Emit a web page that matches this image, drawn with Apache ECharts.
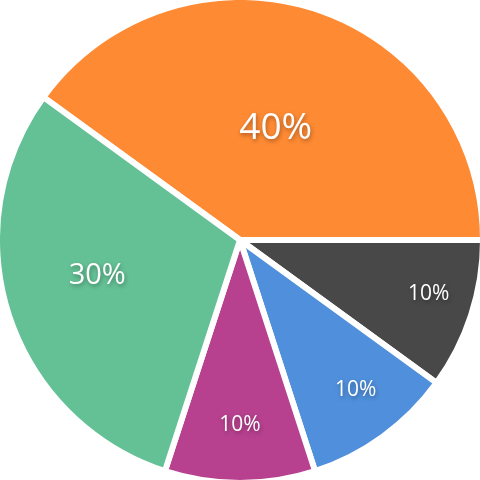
<!DOCTYPE html>
<html>
<head>
<meta charset="utf-8">
<script src="https://cdn.jsdelivr.net/npm/echarts@6/dist/echarts.min.js"></script>
<style>html,body{margin:0;padding:0;background:#fff;}#chart{width:480px;height:480px;}</style>
</head>
<body>
<div id="chart"></div>
<script>
const categories = ['A', 'B', 'C', 'D', 'E'];
const values = [40, 10, 10, 10, 30];

// styling (not data)
const colors = ['#FE8A33', '#484848', '#4F8FDB', '#B7418F', '#64C195'];
const labelSizes = [37, 21, 21, 21, 29];
const labelRing = [0, 2, 2, 2, 1];
const labelNudge = [[-2, 4], [8, -5], [4, -4], [0, -5], [-3, -10]];

const R = 243;
const rings = [[0, 238], [48, 240], [134, 240]];

const chart = echarts.init(document.getElementById('chart'));

const baseLabel = {
  position: 'inside',
  color: '#fff',
  fontFamily: 'Open Sans',
  formatter: p => p.value + '%',
  textShadowColor: 'rgba(0,0,0,0.35)',
  textShadowBlur: 4,
  textShadowOffsetX: 1,
  textShadowOffsetY: 2
};

const series = [{
  type: 'pie',
  radius: [0, R],
  center: ['50%', '50%'],
  startAngle: 144,
  clockwise: true,
  silent: true,
  label: { show: false },
  labelLine: { show: false },
  itemStyle: { borderColor: '#fff', borderWidth: 6 },
  data: categories.map((c, i) => ({ name: c, value: values[i], itemStyle: { color: colors[i] } }))
}];

rings.forEach((rad, k) => {
  series.push({
    type: 'pie',
    radius: rad,
    center: ['50%', '50%'],
    startAngle: 144,
    clockwise: true,
    silent: true,
    z: 5,
    labelLine: { show: false },
    itemStyle: { color: 'rgba(0,0,0,0)', borderWidth: 0 },
    label: Object.assign({}, baseLabel),
    data: categories.map((c, i) => ({
      name: c, value: values[i],
      label: { show: labelRing[i] === k, fontSize: labelSizes[i], offset: labelNudge[i] }
    }))
  });
});

chart.setOption({ animation: false, series });
</script>
</body>
</html>
